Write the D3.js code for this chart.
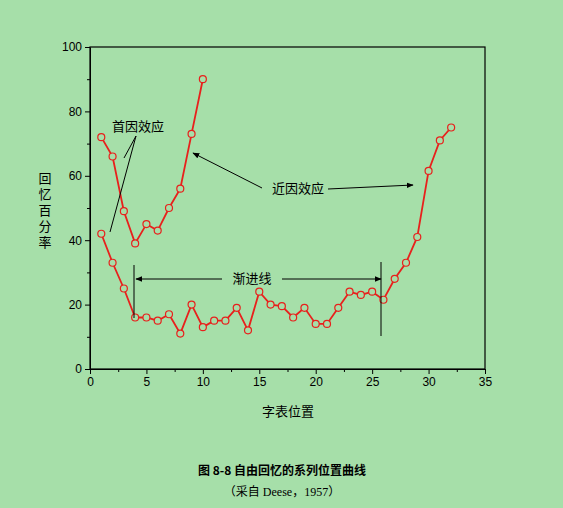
<!DOCTYPE html>
<html lang="zh">
<head>
<meta charset="UTF-8">
<script src="https://d3js.org/d3.v7.min.js"></script>
<style>
  body { margin: 0; background: #a6dfa9; }
  svg { display: block; font-family: "Liberation Serif", "Noto Sans CJK SC", serif; }
</style>
</head>
<body>
<svg id="chart" width="563" height="508"></svg>
<script>
const shortPos = [1, 2, 3, 4, 5, 6, 7, 8, 9, 10];
const shortVals = [72, 66, 49, 39, 45, 43, 50, 56, 73, 90];
const longPos = d3.range(1, 33);
const longVals = [42, 33, 25, 16, 16, 15, 17, 11, 20, 13, 15, 15, 19, 12, 24, 20, 19.5, 16, 19, 14,
                  14, 19, 24, 23, 24, 21.5, 28, 33, 41, 61.5, 71, 75];
const xTicks = [0, 5, 10, 15, 20, 25, 30, 35];
const yTicks = [0, 20, 40, 60, 80, 100];

const svg = d3.select('#chart');
const m = { left: 90, right: 485, top: 47, bottom: 369 };
const x = d3.scaleLinear().domain([0, 35]).range([m.left, m.right]);
const y = d3.scaleLinear().domain([0, 100]).range([m.bottom, m.top]);

// frame
svg.append('rect').attr('x', m.left).attr('y', m.top)
  .attr('width', m.right - m.left).attr('height', m.bottom - m.top)
  .attr('fill', 'none').attr('stroke', '#000').attr('stroke-width', 1.2);

svg.append('g').attr('transform', `translate(0,${m.bottom})`)
  .call(d3.axisBottom(x).tickValues(xTicks).tickSize(5).tickSizeOuter(0));
svg.append('g').attr('transform', `translate(0,${m.bottom})`)
  .call(d3.axisBottom(x).tickValues(d3.range(2.5, 35, 5)).tickSize(3).tickFormat('').tickSizeOuter(0))
  .select('.domain').remove();
svg.append('g').attr('transform', `translate(${m.left},0)`)
  .call(d3.axisLeft(y).tickValues(yTicks).tickSize(5).tickSizeOuter(0));
svg.append('g').attr('transform', `translate(${m.left},0)`)
  .call(d3.axisLeft(y).tickValues(d3.range(10, 100, 20)).tickSize(3).tickFormat('').tickSizeOuter(0))
  .select('.domain').remove();
svg.selectAll('.tick text').attr('font-size', 12).attr('font-family', 'Liberation Sans, Arial');

svg.append('text').attr('x', 288).attr('y', 416).attr('text-anchor', 'middle')
  .attr('font-size', 13).text('字表位置');
const yl = svg.append('text').attr('font-size', 13).attr('text-anchor', 'middle');
['回', '忆', '百', '分', '率'].forEach((c, i) =>
  yl.append('tspan').attr('x', 45).attr('y', 183 + i * 16).text(c));

// lines
const line = d3.line().x(d => x(d[0])).y(d => y(d[1]));
[[shortPos, shortVals], [longPos, longVals]].forEach(([p, v]) => {
  const pts = p.map((d, i) => [d, v[i]]);
  svg.append('path').datum(pts).attr('d', line)
    .attr('fill', 'none').attr('stroke', '#e8201c').attr('stroke-width', 1.8);
  svg.selectAll(null).data(pts).enter().append('circle')
    .attr('cx', d => x(d[0])).attr('cy', d => y(d[1])).attr('r', 3.5)
    .attr('fill', '#a6dfa9').attr('stroke', '#e8201c').attr('stroke-width', 1.2);
});

// annotations
svg.append('defs').append('marker').attr('id', 'ah').attr('viewBox', '0 0 10 10')
  .attr('refX', 9).attr('refY', 5).attr('markerWidth', 7).attr('markerHeight', 7)
  .attr('orient', 'auto').append('path').attr('d', 'M0,1 L10,5 L0,9 Z').attr('fill', '#000');
const ln = (x1, y1, x2, y2, arrow) => {
  const l = svg.append('line').attr('x1', x1).attr('y1', y1).attr('x2', x2).attr('y2', y2)
    .attr('stroke', '#000').attr('stroke-width', 1);
  if (arrow) l.attr('marker-end', 'url(#ah)');
};
const txt = (tx, ty, s) => svg.append('text').attr('x', tx).attr('y', ty).attr('font-size', 13)
  .attr('text-anchor', 'middle').text(s);
txt(138, 131, '首因效应');
ln(136, 136, 124, 158); ln(136, 136, 110, 232);
txt(298, 193, '近因效应');
ln(262, 188, 193, 153, true); ln(328, 189, 413, 185, true);
txt(252, 283, '渐进线');
ln(134, 265, 134, 318); ln(381, 262, 381, 336);
ln(222, 279, 136, 279, true); ln(282, 279, 381, 279, true);

svg.append('text').attr('x', 282).attr('y', 475).attr('text-anchor', 'middle')
  .attr('font-size', 12).attr('font-weight', 'bold').attr('font-family', 'Noto Sans CJK SC')
  .text('图 8-8  自由回忆的系列位置曲线');
svg.append('text').attr('x', 282).attr('y', 496).attr('text-anchor', 'middle')
  .attr('font-size', 12).text('（采自 Deese，1957）');
</script>
</body>
</html>
